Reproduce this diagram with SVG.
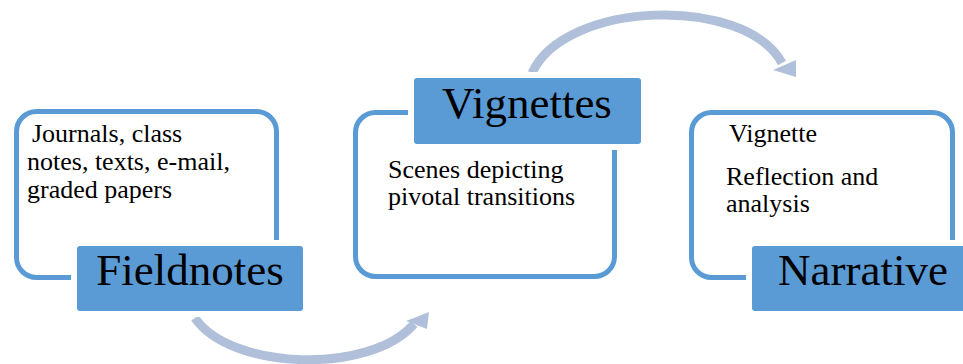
<svg xmlns="http://www.w3.org/2000/svg" width="963" height="364" viewBox="0 0 963 364">
<style>
.frame{fill:#fff;stroke:#5b9bd5;stroke-width:5}
.label{fill:#5b9bd5;stroke:#fff;stroke-width:12;paint-order:stroke}
.title{font-family:"Liberation Serif",serif;font-size:45px;fill:#000}
.body{font-family:"Liberation Serif",serif;font-size:26px;fill:#000}
.arc{fill:none;stroke:#b1c0da;stroke-width:9}
.head{fill:#b1c0da}
</style>
<rect width="963" height="364" fill="#fff"/>
<g id="connectors">
<path class="arc" d="M195,318 C230,370 370,375 414,324"/>
<polygon class="head" points="406,321 429,312 427,329"/>
<path class="arc" d="M532,73 C565,0 745,-5 782,63"/>
<polygon class="head" points="773,70 796,60 796,77"/>
</g>
<g id="fieldnotes">
<rect class="frame" x="16.5" y="111.5" width="260" height="166" rx="20"/>
<rect class="label" x="77" y="246" width="226" height="65" rx="3"/>
<text class="body" x="32" y="142"> Journals, class</text>
<text class="body" x="27" y="170">notes, texts, e-mail,</text>
<text class="body" x="27" y="198">graded papers</text>
<text class="title" x="190" y="285" text-anchor="middle">Fieldnotes</text>
</g>
<g id="vignettes">
<rect class="frame" x="355.5" y="112.5" width="259" height="164" rx="20"/>
<rect class="label" x="414" y="78" width="227" height="66" rx="3"/>
<text class="title" x="527" y="118" text-anchor="middle">Vignettes</text>
<text class="body" x="388" y="178">Scenes depicting</text>
<text class="body" x="388" y="205">pivotal transitions</text>
</g>
<g id="narrative">
<rect class="frame" x="691.5" y="112.5" width="261" height="165" rx="20"/>
<rect class="label" x="752" y="246" width="220" height="65" rx="3"/>
<text class="body" x="729" y="142">Vignette</text>
<text class="body" x="726" y="185">Reflection and</text>
<text class="body" x="726" y="212">analysis</text>
<text class="title" x="778" y="285">Narrative</text>
</g>
</svg>
